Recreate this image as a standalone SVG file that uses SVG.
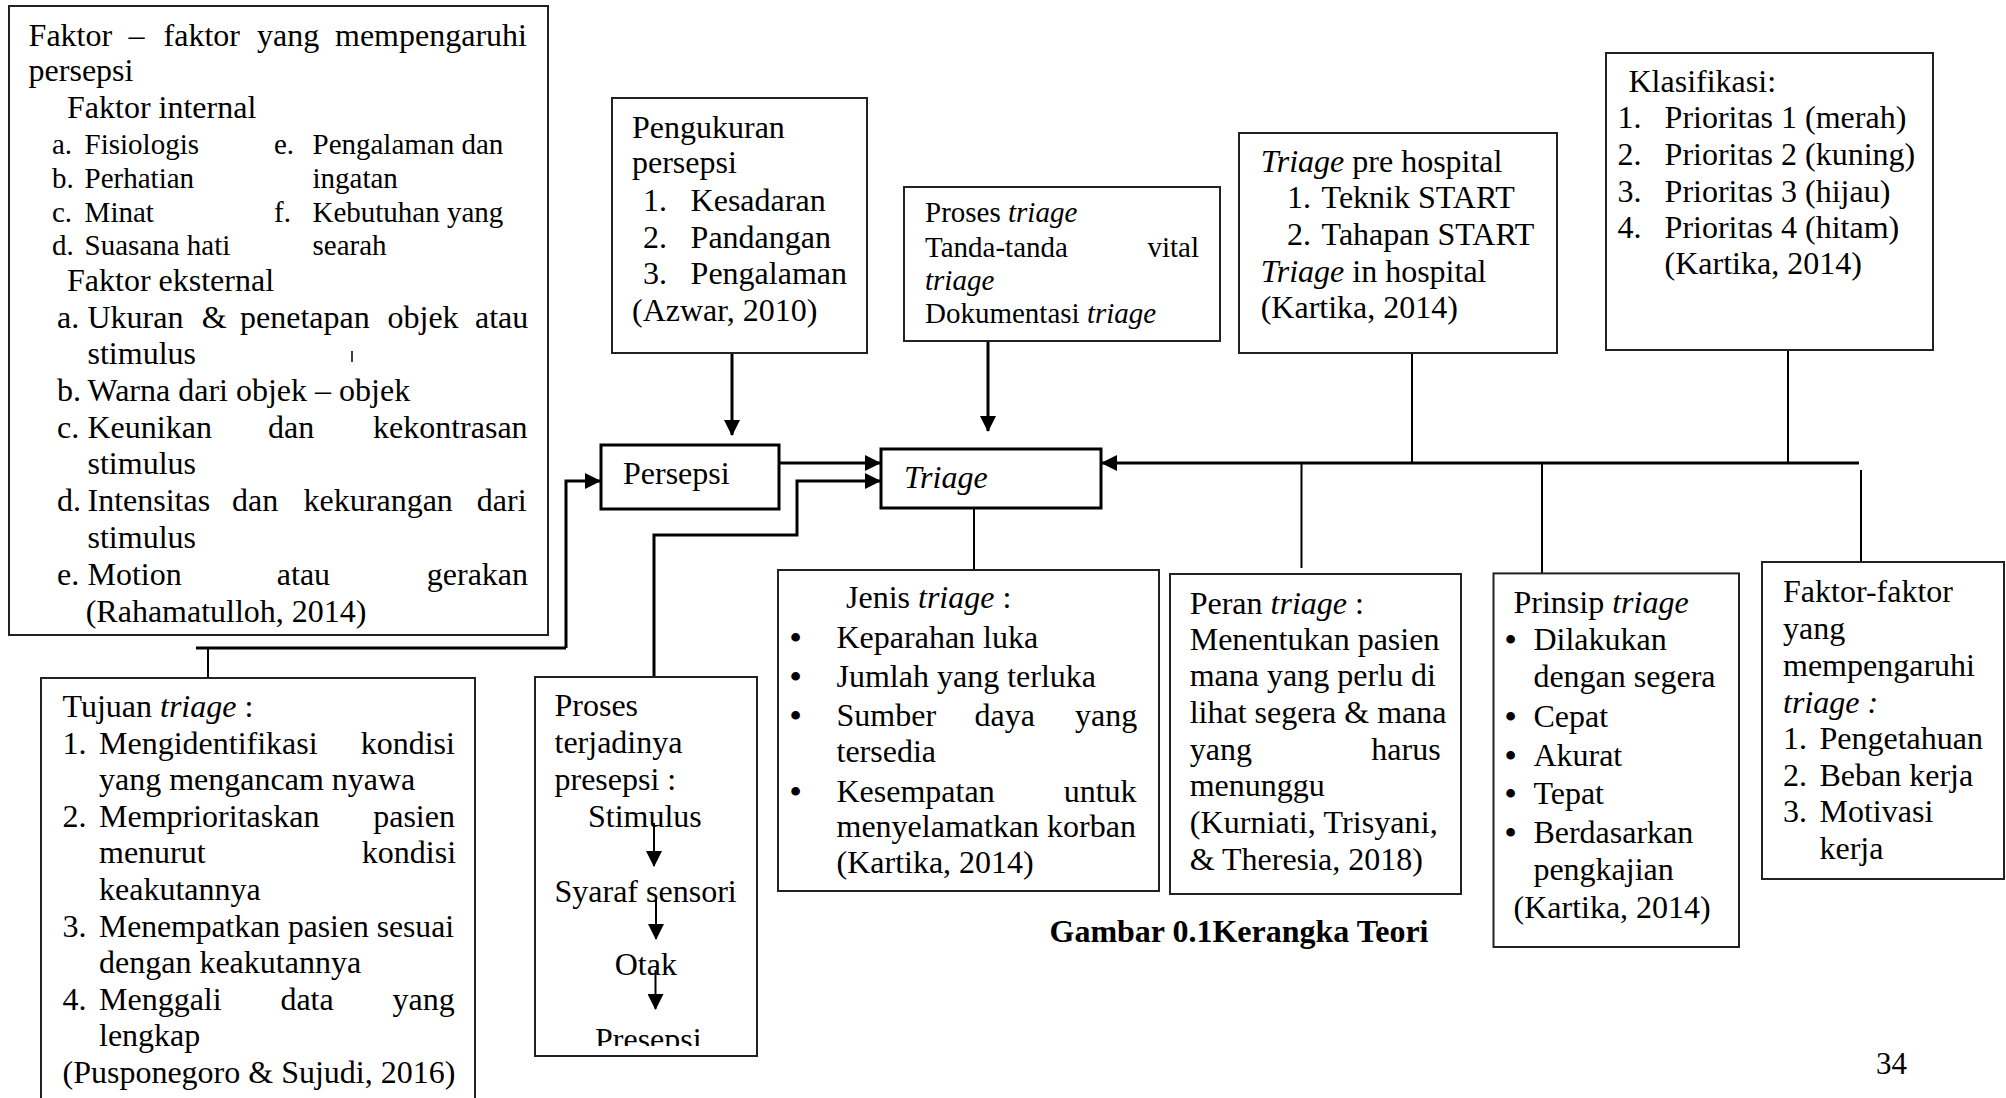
<svg xmlns="http://www.w3.org/2000/svg" width="2006" height="1098" viewBox="0 0 2006 1098">
<style>
text{font-family:"Liberation Serif","Times New Roman",serif;font-size:32px;fill:#000}
.s{font-size:29px}
.i{font-style:italic}
.b{font-weight:bold}
.bul{font-size:32px;font-weight:bold}
.box{fill:#fff;stroke:#222;stroke-width:2}
.thick{fill:#fff;stroke:#000;stroke-width:3}
.c{fill:none;stroke:#000;stroke-width:3}
.c2{fill:none;stroke:#000;stroke-width:2}
</style>
<defs>
<marker id="ah" markerUnits="userSpaceOnUse" markerWidth="16" markerHeight="16" refX="15" refY="8" orient="auto"><path d="M0,0 L16,8 L0,16 z" fill="#000"/></marker>
<clipPath id="clipP"><rect x="536" y="1000" width="220" height="46"/></clipPath>
</defs>
<rect width="2006" height="1098" fill="#fff"/>

<g id="connectors">
<line class="c" x1="732" y1="353" x2="732" y2="435" marker-end="url(#ah)"/>
<line class="c" x1="988" y1="341" x2="988" y2="431" marker-end="url(#ah)"/>
<line class="c" x1="779" y1="463" x2="880" y2="463" marker-end="url(#ah)"/>
<polyline class="c" points="654,677 654,535 797,535 797,481 880,481" marker-end="url(#ah)"/>
<line class="c" x1="196" y1="648" x2="566" y2="648"/>
<line class="c2" x1="208" y1="648" x2="208" y2="678"/>
<polyline class="c" points="566,648 566,481 600,481" marker-end="url(#ah)"/>
<line class="c2" x1="974" y1="503" x2="974" y2="570"/>
<line class="c" x1="1859" y1="463" x2="1102" y2="463" marker-end="url(#ah)"/>
<line class="c2" x1="1412" y1="346" x2="1412" y2="463"/>
<line class="c2" x1="1788" y1="350" x2="1788" y2="463"/>
<line class="c2" x1="1301.5" y1="463" x2="1301.5" y2="568"/>
<line class="c2" x1="1542" y1="463" x2="1542" y2="574"/>
<line class="c2" x1="1861" y1="470" x2="1861" y2="562"/>
</g>

<g id="faktor-persepsi">
<rect class="box" x="9" y="6" width="539" height="629"/>
<text y="46"><tspan x="28.6">Faktor</tspan><tspan x="128.6">–</tspan><tspan x="163.6">faktor</tspan><tspan x="257">yang</tspan><tspan x="335">mempengaruhi</tspan></text>
<text x="28.6" y="81">persepsi</text>
<text x="67" y="118">Faktor internal</text>
<text class="s" y="154"><tspan x="52">a.</tspan><tspan x="84.6">Fisiologis</tspan><tspan x="274">e.</tspan><tspan x="312.5">Pengalaman dan</tspan></text>
<text class="s" y="188"><tspan x="52">b.</tspan><tspan x="84.6">Perhatian</tspan><tspan x="312.5">ingatan</tspan></text>
<text class="s" y="222"><tspan x="52">c.</tspan><tspan x="84.6">Minat</tspan><tspan x="274">f.</tspan><tspan x="312.5">Kebutuhan yang</tspan></text>
<text class="s" y="255"><tspan x="52">d.</tspan><tspan x="84.6">Suasana hati</tspan><tspan x="312.5">searah</tspan></text>
<text x="67" y="291">Faktor eksternal</text>
<text y="328"><tspan x="57">a.</tspan><tspan x="87.5">Ukuran</tspan><tspan x="201.8">&amp;</tspan><tspan x="240">penetapan</tspan><tspan x="387.5">objek</tspan><tspan x="475">atau</tspan></text>
<text x="87.5" y="364">stimulus</text>
<line x1="352" y1="351" x2="352" y2="362" stroke="#000" stroke-width="1.5"/>
<text y="401"><tspan x="57">b.</tspan><tspan x="87.5">Warna dari objek – objek</tspan></text>
<text y="438"><tspan x="57">c.</tspan><tspan x="87.5">Keunikan</tspan><tspan x="268">dan</tspan><tspan x="373">kekontrasan</tspan></text>
<text x="87.5" y="474">stimulus</text>
<text y="511"><tspan x="57">d.</tspan><tspan x="87.5">Intensitas</tspan><tspan x="232">dan</tspan><tspan x="303.6">kekurangan</tspan><tspan x="476.8">dari</tspan></text>
<text x="87.5" y="548">stimulus</text>
<text y="585"><tspan x="57">e.</tspan><tspan x="87.5">Motion</tspan><tspan x="276.8">atau</tspan><tspan x="426.8">gerakan</tspan></text>
<text x="85.7" y="622">(Rahamatulloh, 2014)</text>
</g>

<g id="pengukuran">
<rect class="box" x="612" y="98" width="255" height="255"/>
<text x="632" y="138">Pengukuran</text>
<text x="632" y="173">persepsi</text>
<text y="211"><tspan x="643">1.</tspan><tspan x="690.6">Kesadaran</tspan></text>
<text y="248"><tspan x="643">2.</tspan><tspan x="690.6">Pandangan</tspan></text>
<text y="284"><tspan x="643">3.</tspan><tspan x="690.6">Pengalaman</tspan></text>
<text x="632" y="321">(Azwar, 2010)</text>
</g>

<g id="proses-triage">
<rect class="box" x="904" y="187" width="316" height="154"/>
<text class="s" x="925" y="222">Proses <tspan class="i">triage</tspan></text>
<text class="s" y="257"><tspan x="925">Tanda-tanda</tspan><tspan x="1147.4">vital</tspan></text>
<text class="s i" x="925" y="290">triage</text>
<text class="s" x="925" y="323">Dokumentasi <tspan class="i">triage</tspan></text>
</g>

<g id="triage-hospital">
<rect class="box" x="1239" y="133" width="318" height="220"/>
<text x="1260.7" y="172"><tspan class="i">Triage</tspan> pre hospital</text>
<text y="208"><tspan x="1287">1.</tspan><tspan x="1321.6">Teknik START</tspan></text>
<text y="245"><tspan x="1287">2.</tspan><tspan x="1321.6">Tahapan START</tspan></text>
<text x="1260.7" y="282"><tspan class="i">Triage</tspan> in hospital</text>
<text x="1260.7" y="318">(Kartika, 2014)</text>
</g>

<g id="klasifikasi">
<rect class="box" x="1606" y="53" width="327" height="297"/>
<text x="1628.5" y="92">Klasifikasi:</text>
<text y="128"><tspan x="1617.6">1.</tspan><tspan x="1664.6">Prioritas 1 (merah)</tspan></text>
<text y="165"><tspan x="1617.6">2.</tspan><tspan x="1664.6">Prioritas 2 (kuning)</tspan></text>
<text y="202"><tspan x="1617.6">3.</tspan><tspan x="1664.6">Prioritas 3 (hijau)</tspan></text>
<text y="238"><tspan x="1617.6">4.</tspan><tspan x="1664.6">Prioritas 4 (hitam)</tspan></text>
<text x="1664.6" y="274">(Kartika, 2014)</text>
</g>

<g id="persepsi">
<rect class="thick" x="601" y="445" width="178" height="64"/>
<text x="623" y="484">Persepsi</text>
</g>

<g id="triage">
<rect class="thick" x="881" y="449" width="220" height="59"/>
<text class="i" x="904" y="488">Triage</text>
</g>

<g id="tujuan">
<rect class="box" x="41" y="678" width="434" height="440"/>
<text x="62.5" y="717">Tujuan <tspan class="i">triage</tspan> :</text>
<text y="753.6"><tspan x="62.5">1.</tspan><tspan x="99">Mengidentifikasi</tspan><tspan x="360.7">kondisi</tspan></text>
<text x="99" y="790.2">yang mengancam nyawa</text>
<text y="826.8"><tspan x="62.5">2.</tspan><tspan x="99">Memprioritaskan</tspan><tspan x="373.2">pasien</tspan></text>
<text y="863.4"><tspan x="99">menurut</tspan><tspan x="361.8">kondisi</tspan></text>
<text x="99" y="900">keakutannya</text>
<text x="62.5" y="936.6">3.</text>
<text x="99" y="936.6" textLength="355" lengthAdjust="spacingAndGlyphs">Menempatkan pasien sesuai</text>
<text x="99" y="973.2">dengan keakutannya</text>
<text y="1009.8"><tspan x="62.5">4.</tspan><tspan x="99">Menggali</tspan><tspan x="280.4">data</tspan><tspan x="392.5">yang</tspan></text>
<text x="99" y="1046.4">lengkap</text>
<text x="62.5" y="1083">(Pusponegoro &amp; Sujudi, 2016)</text>
</g>

<g id="proses-persepsi">
<rect class="box" x="535" y="677" width="222" height="379"/>
<text x="554.5" y="716">Proses</text>
<text x="554.5" y="753">terjadinya</text>
<text x="554.5" y="790">presepsi :</text>
<text x="588" y="827">Stimulus</text>
<line class="c2" x1="654" y1="823" x2="654" y2="866" marker-end="url(#ah)"/>
<text x="554.5" y="902">Syaraf sensori</text>
<line class="c2" x1="656" y1="897" x2="656" y2="939" marker-end="url(#ah)"/>
<text x="614.7" y="975">Otak</text>
<line class="c2" x1="655.5" y1="970" x2="655.5" y2="1009" marker-end="url(#ah)"/>
<text x="595" y="1050" clip-path="url(#clipP)">Presepsi</text>
</g>

<g id="jenis-triage">
<rect class="box" x="778" y="570" width="381" height="321"/>
<text x="846" y="608">Jenis <tspan class="i">triage</tspan> :</text>
<text y="648"><tspan class="bul" x="790">•</tspan><tspan x="836.5">Keparahan luka</tspan></text>
<text y="687"><tspan class="bul" x="790">•</tspan><tspan x="836.5">Jumlah yang terluka</tspan></text>
<text y="726"><tspan class="bul" x="790">•</tspan><tspan x="836.5">Sumber</tspan><tspan x="974.5">daya</tspan><tspan x="1075">yang</tspan></text>
<text x="836.5" y="762">tersedia</text>
<text y="802"><tspan class="bul" x="790">•</tspan><tspan x="836.5">Kesempatan</tspan><tspan x="1063.7">untuk</tspan></text>
<text x="836.5" y="837">menyelamatkan korban</text>
<text x="836.5" y="873">(Kartika, 2014)</text>
</g>

<g id="peran-triage">
<rect class="box" x="1170" y="574" width="291" height="320"/>
<text x="1189.7" y="614">Peran <tspan class="i">triage</tspan> :</text>
<text x="1189.7" y="650">Menentukan pasien</text>
<text x="1189.7" y="686">mana yang perlu di</text>
<text x="1189.7" y="723">lihat segera &amp; mana</text>
<text y="760"><tspan x="1189.7">yang</tspan><tspan x="1371.3">harus</tspan></text>
<text x="1189.7" y="796">menunggu</text>
<text x="1189.7" y="833" textLength="248" lengthAdjust="spacing">(Kurniati, Trisyani,</text>
<text x="1189.7" y="870">&amp; Theresia, 2018)</text>
</g>

<g id="prinsip-triage">
<rect class="box" x="1493.5" y="573.4" width="245.5" height="373.6"/>
<text x="1513.5" y="613">Prinsip <tspan class="i">triage</tspan></text>
<text y="650"><tspan class="bul" x="1505">•</tspan><tspan x="1533.4">Dilakukan</tspan></text>
<text x="1533.4" y="687">dengan segera</text>
<text y="727"><tspan class="bul" x="1505">•</tspan><tspan x="1533.4">Cepat</tspan></text>
<text y="766"><tspan class="bul" x="1505">•</tspan><tspan x="1533.4">Akurat</tspan></text>
<text y="804"><tspan class="bul" x="1505">•</tspan><tspan x="1533.4">Tepat</tspan></text>
<text y="843"><tspan class="bul" x="1505">•</tspan><tspan x="1533.4">Berdasarkan</tspan></text>
<text x="1533.4" y="880">pengkajian</text>
<text x="1513.5" y="918">(Kartika, 2014)</text>
</g>

<g id="faktor-triage">
<rect class="box" x="1762" y="562" width="242" height="317"/>
<text x="1783" y="602">Faktor-faktor</text>
<text x="1783" y="639">yang</text>
<text x="1783" y="676">mempengaruhi</text>
<text class="i" x="1783" y="713">triage :</text>
<text y="749"><tspan x="1783">1.</tspan><tspan x="1819.5">Pengetahuan</tspan></text>
<text y="786"><tspan x="1783">2.</tspan><tspan x="1819.5">Beban kerja</tspan></text>
<text y="822"><tspan x="1783">3.</tspan><tspan x="1819.5">Motivasi</tspan></text>
<text x="1819.5" y="859">kerja</text>
</g>

<g id="caption">
<text class="b" x="1049.5" y="942">Gambar 0.1Kerangka Teori</text>
<text x="1876" y="1074" style="font-size:31px">34</text>
</g>
</svg>
